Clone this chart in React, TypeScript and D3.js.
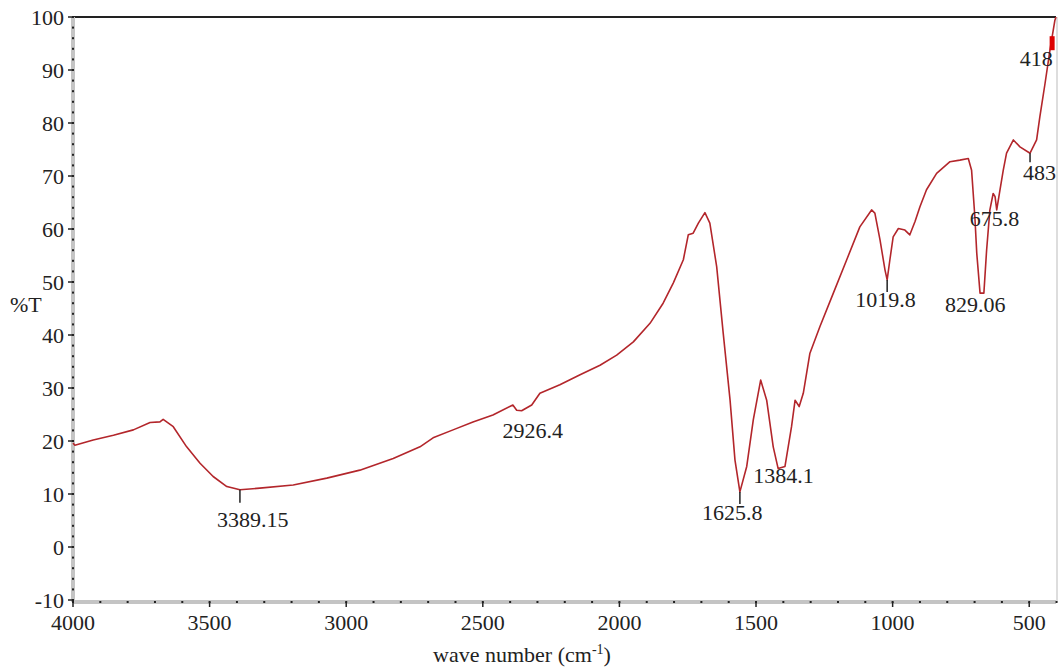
import React from "react";
import * as d3 from "d3";

// IR spectrum (wave number in axis units, %T)
const waveNumber = [
  4000, 3993, 3926, 3852, 3779, 3718, 3682, 3670, 3633, 3584, 3535, 3487, 3437, 3389,
  3316, 3194, 3071, 2950, 2828, 2730, 2682, 2609, 2536, 2463, 2390, 2376, 2358, 2321,
  2291, 2218, 2144, 2071, 2010, 1949, 1888, 1840, 1803, 1766, 1748, 1730, 1711, 1687,
  1669, 1644, 1620, 1595, 1577, 1559, 1534, 1510, 1483, 1461, 1437, 1419, 1394, 1370,
  1357, 1342, 1327, 1303, 1266, 1217, 1168, 1120, 1077, 1065, 1046, 1028, 1020, 1010,
  998, 979, 955, 937, 918, 900, 876, 839, 790, 754, 723, 711, 699, 692, 680, 666, 656,
  644, 632, 625, 619, 607, 595, 583, 558, 534, 497, 473, 461, 442, 424, 418, 406, 402,
];
const transmittance = [
  19.6, 19.2, 20.2, 21.1, 22.1, 23.5, 23.6, 24.1, 22.7, 18.9, 15.8, 13.3, 11.4, 10.8,
  11.1, 11.7, 13.0, 14.5, 16.7, 18.9, 20.6, 22.1, 23.6, 24.9, 26.8, 25.8, 25.7, 26.8,
  29.0, 30.6, 32.5, 34.3, 36.2, 38.7, 42.2, 46.0, 49.8, 54.2, 58.9, 59.2, 61.1, 63.1,
  61.1, 52.9, 40.3, 27.7, 16.4, 10.4, 15.2, 24.0, 31.5, 27.7, 18.9, 14.8, 15.2, 22.7,
  27.7, 26.5, 29.0, 36.5, 41.6, 47.9, 54.2, 60.4, 63.6, 63.0, 57.9, 52.3, 50.4, 54.2,
  58.5, 60.1, 59.8, 58.9, 61.4, 64.2, 67.4, 70.5, 72.7, 73.0, 73.3, 71.1, 62.3, 55.4, 47.9, 47.9, 56.0,
  63.6, 66.7, 66.1, 63.6, 67.4, 71.1, 74.3, 76.8, 75.5, 74.3, 76.8, 81.2, 87.5, 93.8, 95.7, 99.4, 100,
];

// peak annotations: printed text and where the peak sits on the drawn axis
const peakText = ["3389.15", "2926.4", "1625.8", "1384.1", "1019.8", "829.06", "675.8", "483", "418"];
const peakAt = [3389, 2358, 1559, 1419, 1020, 680, 619, 497, 418];

const xTicks = [4000, 3500, 3000, 2500, 2000, 1500, 1000, 500];
const yTicks = [-10, 0, 10, 20, 30, 40, 50, 60, 70, 80, 90, 100];

// label placement (px from the peak point) and tick mark length under it
const peakLayout = [
  { dx: -23, dy: 37, tick: 13 },
  { dx: -19, dy: 27, tick: 0 },
  { dx: -38, dy: 28, tick: 12 },
  { dx: -25, dy: 14, tick: 0 },
  { dx: -32, dy: 27, tick: 12 },
  { dx: -35, dy: 19, tick: 0 },
  { dx: -27, dy: 16, tick: 0 },
  { dx: -7, dy: 27, tick: 9 },
  { dx: -32, dy: 26, tick: 0 },
];

const W = 1060, H = 669;
const left = 73, right = 1056, top = 17, bottom = 602;
const font = "'Liberation Serif', 'Times New Roman', serif";

export default function App() {
  const x = d3.scaleLinear().domain([4000, 402]).range([left, right]);
  const y = d3.scaleLinear().domain([-10, 100]).range([600, top]);

  const pts: [number, number][] = waveNumber.map((w, i) => [w, transmittance[i]]);
  const line = d3.line<[number, number]>().x(d => x(d[0])).y(d => y(d[1]));

  const nearest = (w: number) => {
    let best = 0;
    waveNumber.forEach((v, i) => { if (Math.abs(v - w) < Math.abs(waveNumber[best] - w)) best = i; });
    return transmittance[best];
  };

  const xMinor = d3.range(4000, 399, -100);
  const yMinor = d3.range(-10, 100.1, 2);

  return (
    <svg width={W} height={H} style={{ position: "absolute", left: 0, top: 0, background: "#fff" }}>
      {/* frame */}
      <line x1={left} x2={right} y1={top} y2={top} stroke="#222" strokeWidth={2} />
      <line x1={right + 1} x2={right + 1} y1={top} y2={bottom} stroke="#bbb" strokeWidth={1} />
      <line x1={left} x2={left} y1={top} y2={bottom} stroke="#c4c4c4" strokeWidth={4} />
      <line x1={left} x2={right} y1={bottom} y2={bottom} stroke="#c4c4c4" strokeWidth={4} />

      {/* y axis */}
      {yMinor.map(v => (
        <rect key={"ym" + v} x={left - 1} y={y(v) - 1} width={2} height={2} fill="#222" />
      ))}
      {yTicks.map(v => (
        <g key={"yt" + v}>
          <line x1={left - 5} x2={left} y1={y(v)} y2={y(v)} stroke="#222" strokeWidth={1.5} />
          <text x={64} y={y(v)} dy="0.35em" textAnchor="end" fontFamily={font} fontSize={22} fill="#222">
            {v}
          </text>
        </g>
      ))}
      <text x={10} y={312} fontFamily={font} fontSize={22} fill="#222">%T</text>

      {/* x axis */}
      {xMinor.map(v => (
        <rect key={"xm" + v} x={x(v) - 1} y={bottom - 1} width={2} height={2} fill="#222" />
      ))}
      {xTicks.map(v => (
        <g key={"xt" + v}>
          <line x1={x(v)} x2={x(v)} y1={bottom} y2={bottom + 5} stroke="#222" strokeWidth={1.5} />
          <text x={x(v)} y={630} textAnchor="middle" fontFamily={font} fontSize={22} fill="#222">
            {v}
          </text>
        </g>
      ))}
      <text x={522} y={662} textAnchor="middle" fontFamily={font} fontSize={22} fill="#222">
        wave number (cm<tspan dy={-8} fontSize={14}>-1</tspan><tspan dy={8}>)</tspan>
      </text>

      {/* spectrum */}
      <path d={line(pts) || ""} fill="none" stroke="#b3262b" strokeWidth={1.6} strokeLinejoin="round" />

      {/* peak labels */}
      {peakText.map((t, i) => {
        const px = x(peakAt[i]);
        const py = y(nearest(peakAt[i]));
        const l = peakLayout[i];
        return (
          <g key={t}>
            {l.tick > 0 && <line x1={px} x2={px} y1={py} y2={py + l.tick} stroke="#222" strokeWidth={1.5} />}
            <text x={px + l.dx} y={py + l.dy} fontFamily={font} fontSize={22} fill="#222">{t}</text>
          </g>
        );
      })}
      <rect x={x(418) - 2} y={y(96) - 2} width={5} height={14} fill="#d00" />
    </svg>
  );
}
